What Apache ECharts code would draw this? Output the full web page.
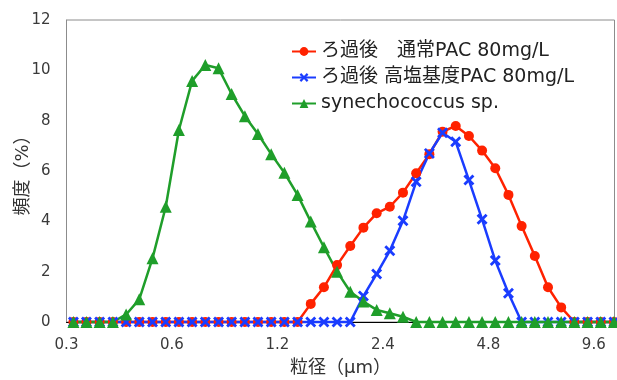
<!DOCTYPE html>
<html>
<head>
<meta charset="utf-8">
<script src="https://cdn.jsdelivr.net/npm/echarts@6/dist/echarts.min.js"></script>
<style>
  html, body { margin: 0; padding: 0; background: #fff; }
  #main { width: 617px; height: 380px; }
</style>
</head>
<body>
<div id="main"></div>
<script>
// particle size bins (µm)
var sizes = [0.314, 0.342, 0.373, 0.407, 0.444, 0.484, 0.528, 0.576, 0.628, 0.685,
             0.747, 0.815, 0.888, 0.969, 1.056, 1.152, 1.256, 1.370, 1.494, 1.629,
             1.776, 1.937, 2.112, 2.304, 2.512, 2.739, 2.987, 3.258, 3.553, 3.874,
             4.225, 4.607, 5.024, 5.479, 5.975, 6.515, 7.105, 7.748, 8.449, 9.214,
             10.05, 10.96];

// frequency (%)
var normalPac = [0, 0, 0, 0, 0, 0, 0, 0, 0, 0,
                 0, 0, 0, 0, 0, 0, 0, 0, 0.72, 1.38,
                 2.26, 3.02, 3.75, 4.32, 4.58, 5.14, 5.91, 6.67, 7.56, 7.79,
                 7.39, 6.81, 6.11, 5.05, 3.81, 2.62, 1.38, 0.58, 0, 0,
                 0, 0];
var highPac = [0, 0, 0, 0, 0, 0, 0, 0, 0, 0,
               0, 0, 0, 0, 0, 0, 0, 0, 0, 0,
               0, 0, 1.03, 1.91, 2.83, 4.02, 5.57, 6.70, 7.52, 7.16,
               5.64, 4.08, 2.44, 1.14, 0, 0, 0, 0, 0, 0,
               0, 0];
var synecho = [0, 0, 0, 0, 0.30, 0.90, 2.53, 4.58, 7.63, 9.58,
               10.21, 10.08, 9.06, 8.18, 7.47, 6.67, 5.93, 5.05, 3.99, 2.97,
               2.0, 1.2, 0.81, 0.48, 0.35, 0.21, 0, 0, 0, 0,
               0, 0, 0, 0, 0, 0, 0, 0, 0, 0,
               0, 0];

var xTicks = [0.3, 0.6, 1.2, 2.4, 4.8, 9.6];
var xMaxSize = 11;
var names = ['ろ過後　通常PAC 80mg/L', 'ろ過後 高塩基度PAC 80mg/L', 'synechococcus sp.'];

var FONT = '"DejaVu Sans", "Noto Sans CJK JP", sans-serif';

// x axis is log2 of size relative to the first tick
function toPairs(vals) {
  return sizes.map(function (s, i) {
    return [Math.log2(s / xTicks[0]), vals[i]];
  });
}

// thick "x" marker
var xSymbol = 'path://M0,1.8L1.8,0L5,3.2L8.2,0L10,1.8L6.8,5L10,8.2L8.2,10L5,6.8L1.8,10L0,8.2L3.2,5Z';

var chartDom = document.getElementById('main');
var myChart = echarts.init(chartDom, null, { renderer: 'canvas' });

var option = {
  backgroundColor: '#fff',
  animation: false,
  textStyle: { fontFamily: FONT },
  grid: {
    left: 66.5, right: 2.5, top: 20, bottom: 58,
    show: true, borderColor: '#8c8c8c', borderWidth: 1,
    outerBoundsMode: 'none'
  },
  legend: {
    orient: 'vertical',
    left: 286, top: 37,
    itemWidth: 24, itemHeight: 11, itemGap: 7,
    textStyle: { fontFamily: FONT, fontSize: 19, lineHeight: 18, color: '#222' },
    data: names
  },
  xAxis: {
    type: 'value',
    min: 0,
    max: Math.log2(xMaxSize / xTicks[0]),
    interval: 1,
    name: '粒径（μm）',
    nameLocation: 'middle',
    nameGap: 37,
    nameMoveOverlap: false,
    nameTextStyle: { fontFamily: FONT, fontSize: 18, color: '#333' },
    axisLine: { show: true, lineStyle: { color: '#000', width: 1 } },
    axisTick: { show: false },
    splitLine: { show: false },
    axisLabel: {
      margin: 16,
      fontFamily: FONT, fontSize: 15, color: '#3a3a3a',
      showMaxLabel: false,
      formatter: function (v) {
        var i = Math.round(v);
        if (Math.abs(v - i) > 1e-6 || i >= xTicks.length) return '';
        return xTicks[i].toFixed(1);
      }
    }
  },
  yAxis: {
    type: 'value',
    min: 0, max: 12, interval: 2,
    name: '頻度（%）',
    nameLocation: 'middle',
    nameRotate: 90,
    nameGap: 34,
    nameMoveOverlap: false,
    nameTextStyle: { fontFamily: FONT, fontSize: 18, color: '#333' },
    axisLine: { show: true, lineStyle: { color: '#8c8c8c', width: 1 } },
    axisTick: { show: false },
    splitLine: { show: false },
    axisLabel: { margin: 16, fontFamily: FONT, fontSize: 15, color: '#3a3a3a' }
  },
  series: [
    {
      name: names[0],
      type: 'line',
      data: toPairs(normalPac),
      symbol: 'circle',
      symbolSize: 10,
      color: '#ff2200',
      lineStyle: { width: 2.5, color: '#ff2200' },
      itemStyle: { color: '#ff2200' },
      clip: false
    },
    {
      name: names[1],
      type: 'line',
      data: toPairs(highPac),
      symbol: xSymbol,
      symbolSize: 11,
      color: '#1a3cff',
      lineStyle: { width: 2.5, color: '#1a3cff' },
      itemStyle: { color: '#1a3cff' },
      clip: false
    },
    {
      name: names[2],
      type: 'line',
      data: toPairs(synecho),
      symbol: 'triangle',
      symbolSize: 12,
      color: '#1f9e2a',
      lineStyle: { width: 2.5, color: '#1f9e2a' },
      itemStyle: { color: '#1f9e2a' },
      clip: false
    }
  ]
};

myChart.setOption(option);
window.addEventListener('resize', function () {
  myChart.resize();
});
</script>
</body>
</html>
